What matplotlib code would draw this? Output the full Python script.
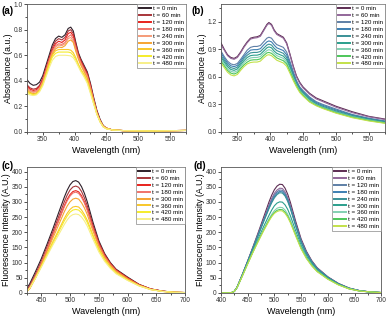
#!/usr/bin/env python3
"""Absorbance / fluorescence time series, 2x2 panels."""
import matplotlib
matplotlib.use("Agg")
import matplotlib.pyplot as plt
from matplotlib.ticker import MultipleLocator, FormatStrFormatter

plt.rcParams["font.family"] = ["Liberation Sans", "DejaVu Sans"]

TIMES = [0, 60, 120, 180, 240, 300, 360, 420, 480]
TIMES_C = [0, 60, 120, 180, 300, 360, 420, 480]

WARM = ["#2e1f29", "#a8353a", "#e8231d", "#f0736a", "#f59b78",
        "#f6a432", "#f8c72a", "#f5ec2a", "#f7ef88"]
WARM_C = ["#2e1f29", "#a8353a", "#e8231d", "#f0736a",
          "#f6a432", "#f8c72a", "#f5ec2a", "#f7ef88"]
COOL = ["#5c2c52", "#93679a", "#5e7fa6", "#3d7fb2", "#3a9196",
        "#2b9f8c", "#83d0b2", "#4dc65a", "#c3e14a"]

# ---- (a) absorbance ----
WL_A = [325, 330, 335, 340, 345, 350, 355, 360, 365, 370, 375, 380, 385, 390,
        394, 398, 402, 406, 410, 415, 420, 425, 430, 435, 440, 445, 450, 460,
        480, 520, 575]
ABS_A_0 = [0.41, 0.38, 0.365, 0.37, 0.39, 0.44, 0.52, 0.60, 0.68, 0.73, 0.75, 0.74, 0.76, 0.81,
           0.82, 0.79, 0.70, 0.62, 0.57, 0.52, 0.47, 0.38, 0.27, 0.17, 0.10, 0.05, 0.03, 0.015,
           0.01, 0.008, 0.012]
ABS_A_60 = [0.37, 0.345, 0.335, 0.34, 0.365, 0.42, 0.50, 0.58, 0.66, 0.71, 0.73, 0.72, 0.74, 0.79,
            0.80, 0.77, 0.69, 0.61, 0.56, 0.51, 0.46, 0.37, 0.26, 0.16, 0.09, 0.05, 0.03, 0.015,
            0.01, 0.008, 0.012]
ABS_A_120 = [0.36, 0.335, 0.325, 0.33, 0.355, 0.41, 0.49, 0.57, 0.64, 0.69, 0.71, 0.70, 0.72, 0.77,
             0.78, 0.75, 0.67, 0.60, 0.55, 0.50, 0.45, 0.36, 0.25, 0.16, 0.09, 0.045, 0.03, 0.015,
             0.01, 0.008, 0.012]
ABS_A_180 = [0.35, 0.325, 0.315, 0.32, 0.345, 0.40, 0.48, 0.56, 0.63, 0.675, 0.69, 0.685, 0.70, 0.745,
             0.76, 0.73, 0.66, 0.59, 0.54, 0.49, 0.44, 0.35, 0.25, 0.15, 0.09, 0.045, 0.03, 0.015,
             0.01, 0.008, 0.012]
ABS_A_240 = [0.34, 0.32, 0.31, 0.315, 0.34, 0.39, 0.47, 0.55, 0.62, 0.665, 0.68, 0.675, 0.69, 0.73,
             0.74, 0.71, 0.64, 0.58, 0.53, 0.48, 0.43, 0.34, 0.24, 0.15, 0.085, 0.045, 0.03, 0.015,
             0.01, 0.008, 0.012]
ABS_A_300 = [0.33, 0.31, 0.30, 0.305, 0.33, 0.38, 0.46, 0.54, 0.61, 0.65, 0.665, 0.66, 0.675, 0.71,
             0.72, 0.70, 0.63, 0.57, 0.52, 0.47, 0.42, 0.33, 0.24, 0.15, 0.085, 0.045, 0.03, 0.015,
             0.01, 0.008, 0.012]
ABS_A_360 = [0.32, 0.305, 0.295, 0.30, 0.325, 0.375, 0.45, 0.53, 0.60, 0.635, 0.645, 0.645, 0.645, 0.645,
             0.64, 0.62, 0.58, 0.53, 0.49, 0.45, 0.40, 0.32, 0.23, 0.14, 0.08, 0.04, 0.025, 0.015,
             0.01, 0.008, 0.012]
ABS_A_420 = [0.31, 0.30, 0.29, 0.295, 0.32, 0.37, 0.44, 0.52, 0.585, 0.615, 0.625, 0.625, 0.625, 0.625,
             0.62, 0.60, 0.565, 0.52, 0.48, 0.44, 0.39, 0.31, 0.22, 0.14, 0.08, 0.04, 0.025, 0.015,
             0.01, 0.008, 0.012]
ABS_A_480 = [0.30, 0.29, 0.285, 0.29, 0.315, 0.36, 0.43, 0.50, 0.56, 0.59, 0.60, 0.60, 0.60, 0.598,
             0.595, 0.58, 0.55, 0.51, 0.47, 0.43, 0.38, 0.30, 0.22, 0.14, 0.08, 0.04, 0.025, 0.015,
             0.01, 0.008, 0.012]
ABS_A = [ABS_A_0, ABS_A_60, ABS_A_120, ABS_A_180, ABS_A_240, ABS_A_300, ABS_A_360, ABS_A_420, ABS_A_480]

# ---- (b) absorbance ----
WL_B = [325, 330, 335, 340, 345, 350, 355, 360, 365, 370, 375, 380, 385, 390, 395, 398, 402,
        406, 410, 415, 420, 425, 430, 435, 440, 445, 450, 460, 470, 480, 500, 525, 550, 575]
ABS_B_0 = [0.97, 0.90, 0.84, 0.81, 0.80, 0.82, 0.87, 0.93, 0.98, 1.02, 1.03, 1.035, 1.05, 1.11, 1.17, 1.19, 1.17,
           1.11, 1.07, 1.05, 1.03, 0.97, 0.85, 0.72, 0.61, 0.54, 0.49, 0.42, 0.37, 0.34, 0.28, 0.22, 0.17, 0.14]
ABS_B_60 = [0.95, 0.89, 0.83, 0.80, 0.79, 0.81, 0.86, 0.92, 0.97, 1.01, 1.02, 1.025, 1.04, 1.10, 1.16, 1.18, 1.16,
            1.10, 1.06, 1.04, 1.02, 0.96, 0.84, 0.71, 0.60, 0.53, 0.48, 0.41, 0.36, 0.33, 0.27, 0.21, 0.165, 0.135]
ABS_B_120 = [0.88, 0.82, 0.77, 0.74, 0.73, 0.745, 0.79, 0.84, 0.89, 0.92, 0.93, 0.93, 0.94, 0.98, 1.02, 1.03, 1.02,
             0.98, 0.95, 0.935, 0.92, 0.87, 0.77, 0.66, 0.56, 0.49, 0.45, 0.38, 0.33, 0.30, 0.25, 0.19, 0.15, 0.12]
ABS_B_180 = [0.86, 0.80, 0.75, 0.72, 0.71, 0.725, 0.77, 0.82, 0.86, 0.89, 0.895, 0.895, 0.905, 0.945, 0.98, 0.99, 0.98,
             0.945, 0.915, 0.90, 0.885, 0.84, 0.745, 0.64, 0.54, 0.48, 0.44, 0.37, 0.32, 0.29, 0.24, 0.185, 0.145, 0.115]
ABS_B_240 = [0.83, 0.78, 0.73, 0.70, 0.69, 0.705, 0.75, 0.80, 0.835, 0.86, 0.865, 0.865, 0.875, 0.91, 0.945, 0.955, 0.945,
             0.91, 0.885, 0.87, 0.855, 0.81, 0.72, 0.62, 0.53, 0.47, 0.43, 0.36, 0.31, 0.28, 0.23, 0.18, 0.14, 0.11]
ABS_B_300 = [0.81, 0.76, 0.71, 0.68, 0.67, 0.685, 0.73, 0.775, 0.81, 0.83, 0.835, 0.835, 0.845, 0.88, 0.915, 0.925, 0.915,
             0.88, 0.855, 0.84, 0.825, 0.785, 0.70, 0.60, 0.52, 0.46, 0.42, 0.35, 0.30, 0.27, 0.22, 0.17, 0.135, 0.105]
ABS_B_360 = [0.79, 0.74, 0.69, 0.66, 0.65, 0.665, 0.71, 0.755, 0.785, 0.805, 0.81, 0.81, 0.82, 0.855, 0.885, 0.895, 0.885,
             0.855, 0.83, 0.815, 0.80, 0.76, 0.68, 0.59, 0.51, 0.45, 0.41, 0.34, 0.295, 0.265, 0.215, 0.165, 0.13, 0.10]
ABS_B_420 = [0.77, 0.72, 0.67, 0.64, 0.63, 0.645, 0.69, 0.73, 0.76, 0.78, 0.785, 0.785, 0.795, 0.83, 0.86, 0.865, 0.855,
             0.83, 0.805, 0.79, 0.775, 0.74, 0.66, 0.575, 0.50, 0.44, 0.40, 0.33, 0.29, 0.26, 0.21, 0.16, 0.125, 0.097]
ABS_B_480 = [0.75, 0.70, 0.65, 0.62, 0.61, 0.625, 0.67, 0.71, 0.74, 0.755, 0.76, 0.76, 0.77, 0.805, 0.835, 0.84, 0.83,
             0.805, 0.78, 0.765, 0.75, 0.715, 0.64, 0.56, 0.49, 0.43, 0.39, 0.325, 0.285, 0.255, 0.205, 0.155, 0.12, 0.094]
ABS_B = [ABS_B_0, ABS_B_60, ABS_B_120, ABS_B_180, ABS_B_240, ABS_B_300, ABS_B_360, ABS_B_420, ABS_B_480]

# ---- (c) fluorescence ----
WL_C = [425, 430, 440, 450, 460, 470, 480, 490, 495, 500, 505, 510, 515, 520, 525, 530,
        540, 550, 560, 570, 580, 600, 620, 640, 660, 680, 700]
FL_C_0 = [15, 30, 70, 112, 160, 210, 263, 315, 338, 356, 367, 370, 365, 350, 328, 300,
          232, 172, 130, 100, 78, 52, 28, 13, 6, 2, 1]
FL_C_60 = [10, 24, 62, 104, 152, 200, 250, 300, 322, 339, 349, 352, 348, 334, 313, 287,
           223, 167, 127, 98, 76, 50, 27, 13, 6, 2, 1]
FL_C_120 = [4, 14, 50, 92, 140, 190, 238, 287, 308, 324, 334, 337, 333, 320, 300, 276,
            216, 162, 124, 96, 75, 49, 27, 13, 6, 2, 1]
FL_C_180 = [6, 18, 56, 97, 143, 190, 236, 283, 303, 319, 329, 332, 328, 315, 296, 272,
            212, 159, 121, 94, 73, 47, 26, 12, 5, 2, 1]
FL_C_300 = [5, 16, 52, 92, 136, 180, 223, 267, 286, 300, 309, 312, 309, 297, 280, 258,
            203, 153, 117, 91, 71, 46, 25, 12, 5, 2, 1]
FL_C_360 = [5, 15, 50, 88, 128, 168, 206, 245, 262, 275, 283, 285, 283, 273, 258, 239,
            190, 145, 111, 86, 67, 43, 24, 11, 5, 2, 1]
FL_C_420 = [5, 15, 49, 86, 125, 163, 200, 237, 253, 266, 273, 275, 273, 264, 250, 232,
            185, 141, 108, 84, 65, 42, 23, 11, 5, 2, 1]
FL_C_480 = [5, 15, 48, 84, 121, 157, 191, 225, 240, 252, 258, 260, 258, 250, 237, 220,
            176, 135, 104, 81, 63, 41, 23, 11, 5, 2, 1]
FL_C = [FL_C_0, FL_C_60, FL_C_120, FL_C_180, FL_C_300, FL_C_360, FL_C_420, FL_C_480]

# ---- (d) fluorescence ----
WL_D = [400, 415, 420, 425, 430, 440, 450, 460, 470, 480, 490, 495, 500, 505, 510, 515,
        520, 525, 530, 540, 550, 560, 570, 580, 600, 620, 640, 660, 680, 700]
FL_D_0 = [0, 0, 1, 5, 18, 60, 105, 152, 200, 250, 300, 322, 340, 352, 358, 357,
          345, 325, 298, 235, 178, 137, 106, 83, 53, 31, 16, 7, 3, 1]
FL_D_60 = [0, 0, 1, 5, 18, 60, 104, 150, 196, 243, 290, 311, 328, 339, 345, 344,
           333, 314, 288, 228, 173, 134, 104, 82, 52, 30, 15, 7, 3, 1]
FL_D_120 = [0, 0, 1, 5, 18, 60, 104, 149, 194, 240, 285, 305, 322, 333, 339, 338,
            327, 309, 284, 225, 171, 132, 103, 81, 52, 30, 15, 7, 3, 1]
FL_D_180 = [0, 0, 1, 5, 18, 59, 103, 148, 192, 237, 281, 301, 317, 328, 334, 333,
            323, 305, 280, 222, 169, 131, 102, 80, 51, 30, 15, 7, 3, 1]
FL_D_240 = [0, 0, 1, 5, 18, 59, 103, 147, 191, 235, 278, 297, 313, 324, 330, 329,
            319, 301, 277, 220, 167, 129, 101, 79, 51, 29, 15, 7, 3, 1]
FL_D_300 = [0, 0, 1, 5, 17, 57, 99, 140, 180, 219, 256, 273, 287, 296, 300, 299,
            290, 275, 254, 204, 157, 122, 96, 75, 48, 28, 14, 6, 3, 1]
FL_D_360 = [0, 0, 1, 5, 17, 56, 97, 136, 174, 210, 244, 259, 271, 279, 282, 281,
            273, 259, 240, 194, 150, 117, 92, 72, 46, 27, 14, 6, 3, 1]
FL_D_420 = [0, 0, 1, 5, 17, 56, 96, 135, 172, 207, 240, 254, 265, 272, 275, 274,
            266, 253, 234, 190, 147, 115, 90, 71, 46, 27, 13, 6, 3, 1]
FL_D_480 = [0, 0, 1, 5, 17, 55, 95, 134, 170, 205, 237, 251, 262, 268, 271, 270,
            262, 249, 231, 187, 145, 113, 89, 70, 45, 26, 13, 6, 3, 1]
FL_D = [FL_D_0, FL_D_60, FL_D_120, FL_D_180, FL_D_240, FL_D_300, FL_D_360, FL_D_420, FL_D_480]


def style(ax, xlim, ylim, xmaj, ymaj, ylabel, yfmt=None):
    ax.set_xlim(*xlim)
    ax.set_ylim(*ylim)
    ax.xaxis.set_major_locator(MultipleLocator(xmaj))
    ax.xaxis.set_minor_locator(MultipleLocator(xmaj / 2))
    ax.yaxis.set_major_locator(MultipleLocator(ymaj))
    ax.yaxis.set_minor_locator(MultipleLocator(ymaj / 2))
    if yfmt:
        ax.yaxis.set_major_formatter(yfmt)
    ax.tick_params(which="both", direction="out", labelsize=4.8, width=0.6,
                   colors="#333333", pad=1)
    ax.tick_params(which="major", length=2)
    ax.tick_params(which="minor", length=1.2)
    for s in ax.spines.values():
        s.set_linewidth(0.6)
        s.set_color("#555555")
    ax.set_xlabel("Wavelength (nm)", fontsize=6.5, labelpad=2)
    ax.set_ylabel(ylabel, fontsize=6.3, labelpad=0.5)


def panel(ax, wl, series, times, colors):
    for ys, t, c in zip(series, times, colors):
        ax.plot(wl, ys, color=c, lw=0.8, label=f"t = {t} min")
    leg = ax.legend(loc="upper right", fontsize=4.5, borderaxespad=0.0,
                    handlelength=1.9, handletextpad=0.4, labelspacing=0.24,
                    borderpad=0.3, fancybox=False, framealpha=1,
                    edgecolor="#888888")
    leg.get_frame().set_linewidth(0.5)
    for ln in leg.get_lines():
        ln.set_linewidth(1.4)


fig = plt.figure(figsize=(3.89, 3.18), dpi=100)
ax_a = fig.add_axes([0.069, 0.585, 0.409, 0.402])
ax_b = fig.add_axes([0.568, 0.585, 0.422, 0.402])
ax_c = fig.add_axes([0.069, 0.079, 0.407, 0.396])
ax_d = fig.add_axes([0.568, 0.079, 0.412, 0.396])

panel(ax_a, WL_A, ABS_A, TIMES, WARM)
style(ax_a, (325, 575), (0, 1.0), 50, 0.2, "Absorbance (a.u.)", FormatStrFormatter("%.1f"))
panel(ax_b, WL_B, ABS_B, TIMES, COOL)
style(ax_b, (325, 575), (0, 1.39), 50, 0.3, "Absorbance (a.u.)", FormatStrFormatter("%.1f"))
panel(ax_c, WL_C, FL_C, TIMES_C, WARM_C)
style(ax_c, (425, 700), (0, 415), 50, 50, "Fluorescence Intensity (A.U.)")
panel(ax_d, WL_D, FL_D, TIMES, COOL)
style(ax_d, (400, 700), (0, 415), 50, 50, "Fluorescence Intensity (A.U.)")

for x, y, s in [(0.003, 0.955, "(a)"), (0.492, 0.955, "(b)"),
                (0.003, 0.47, "(c)"), (0.497, 0.47, "(d)")]:
    fig.text(x, y, s, fontsize=7, fontweight="bold")

fig.savefig("out.png", dpi=100)
